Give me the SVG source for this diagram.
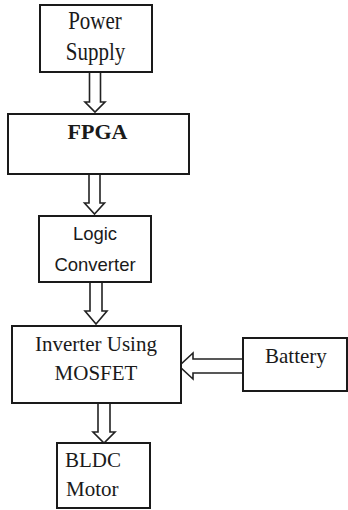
<svg xmlns="http://www.w3.org/2000/svg" width="348" height="510" viewBox="0 0 348 510">
<style>
.box{fill:#fff;stroke:#1a1a1a;stroke-width:2}
.arr{fill:#fff;stroke:#222;stroke-width:1.6;stroke-linejoin:miter}
.t{font-family:"Liberation Serif","Times New Roman",serif;font-size:21px;fill:#1a1a1a}
.b{font-weight:bold;font-size:22px}
.s{font-family:"Liberation Sans",Arial,sans-serif;font-size:18.5px;fill:#1a1a1a}
</style>
<rect width="348" height="510" fill="#fff"/>
<g id="connectors">
<polyline class="arr" points="89.5,72 89.5,102 85,102 95,112 105,102 100.5,102 100.5,72"/>
<polyline class="arr" points="89,174 89,203 84.5,203 94.5,214 104.5,203 100,203 100,174"/>
<polyline class="arr" points="90,282 90,311 85,311 96,324 107,311 102,311 102,282"/>
<polyline class="arr" points="98,403 98,432 93,432 104,443 115,432 110,432 110,403"/>
<polyline class="arr" points="242,359 193,359 193,353 179,366 193,379 193,373 242,373"/>
</g>
<g id="power-supply">
<rect class="box" x="40" y="5" width="112" height="67"/>
<text class="t" transform="translate(95,29) scale(1,1.18)" text-anchor="middle">Power</text>
<text class="t" transform="translate(95.5,60) scale(1,1.18)" text-anchor="middle">Supply</text>
</g>
<g id="fpga">
<rect class="box" x="8" y="114" width="181" height="60"/>
<text class="t b" x="97.5" y="139" text-anchor="middle">FPGA</text>
</g>
<g id="logic-converter">
<rect class="box" x="39" y="216" width="112" height="66"/>
<text class="s" x="95" y="240" text-anchor="middle">Logic</text>
<text class="s" x="95" y="271" text-anchor="middle">Converter</text>
</g>
<g id="inverter">
<rect class="box" x="12" y="326" width="169" height="77"/>
<text class="t" x="96" y="351" text-anchor="middle">Inverter Using</text>
<text class="t" x="96" y="380" text-anchor="middle">MOSFET</text>
</g>
<g id="battery">
<rect class="box" x="243" y="338" width="104" height="53"/>
<text class="t" x="265" y="363">Battery</text>
</g>
<g id="bldc-motor">
<rect class="box" x="57" y="443" width="93" height="65"/>
<text class="t" x="65" y="467">BLDC</text>
<text class="t" x="66" y="496">Motor</text>
</g>
</svg>
